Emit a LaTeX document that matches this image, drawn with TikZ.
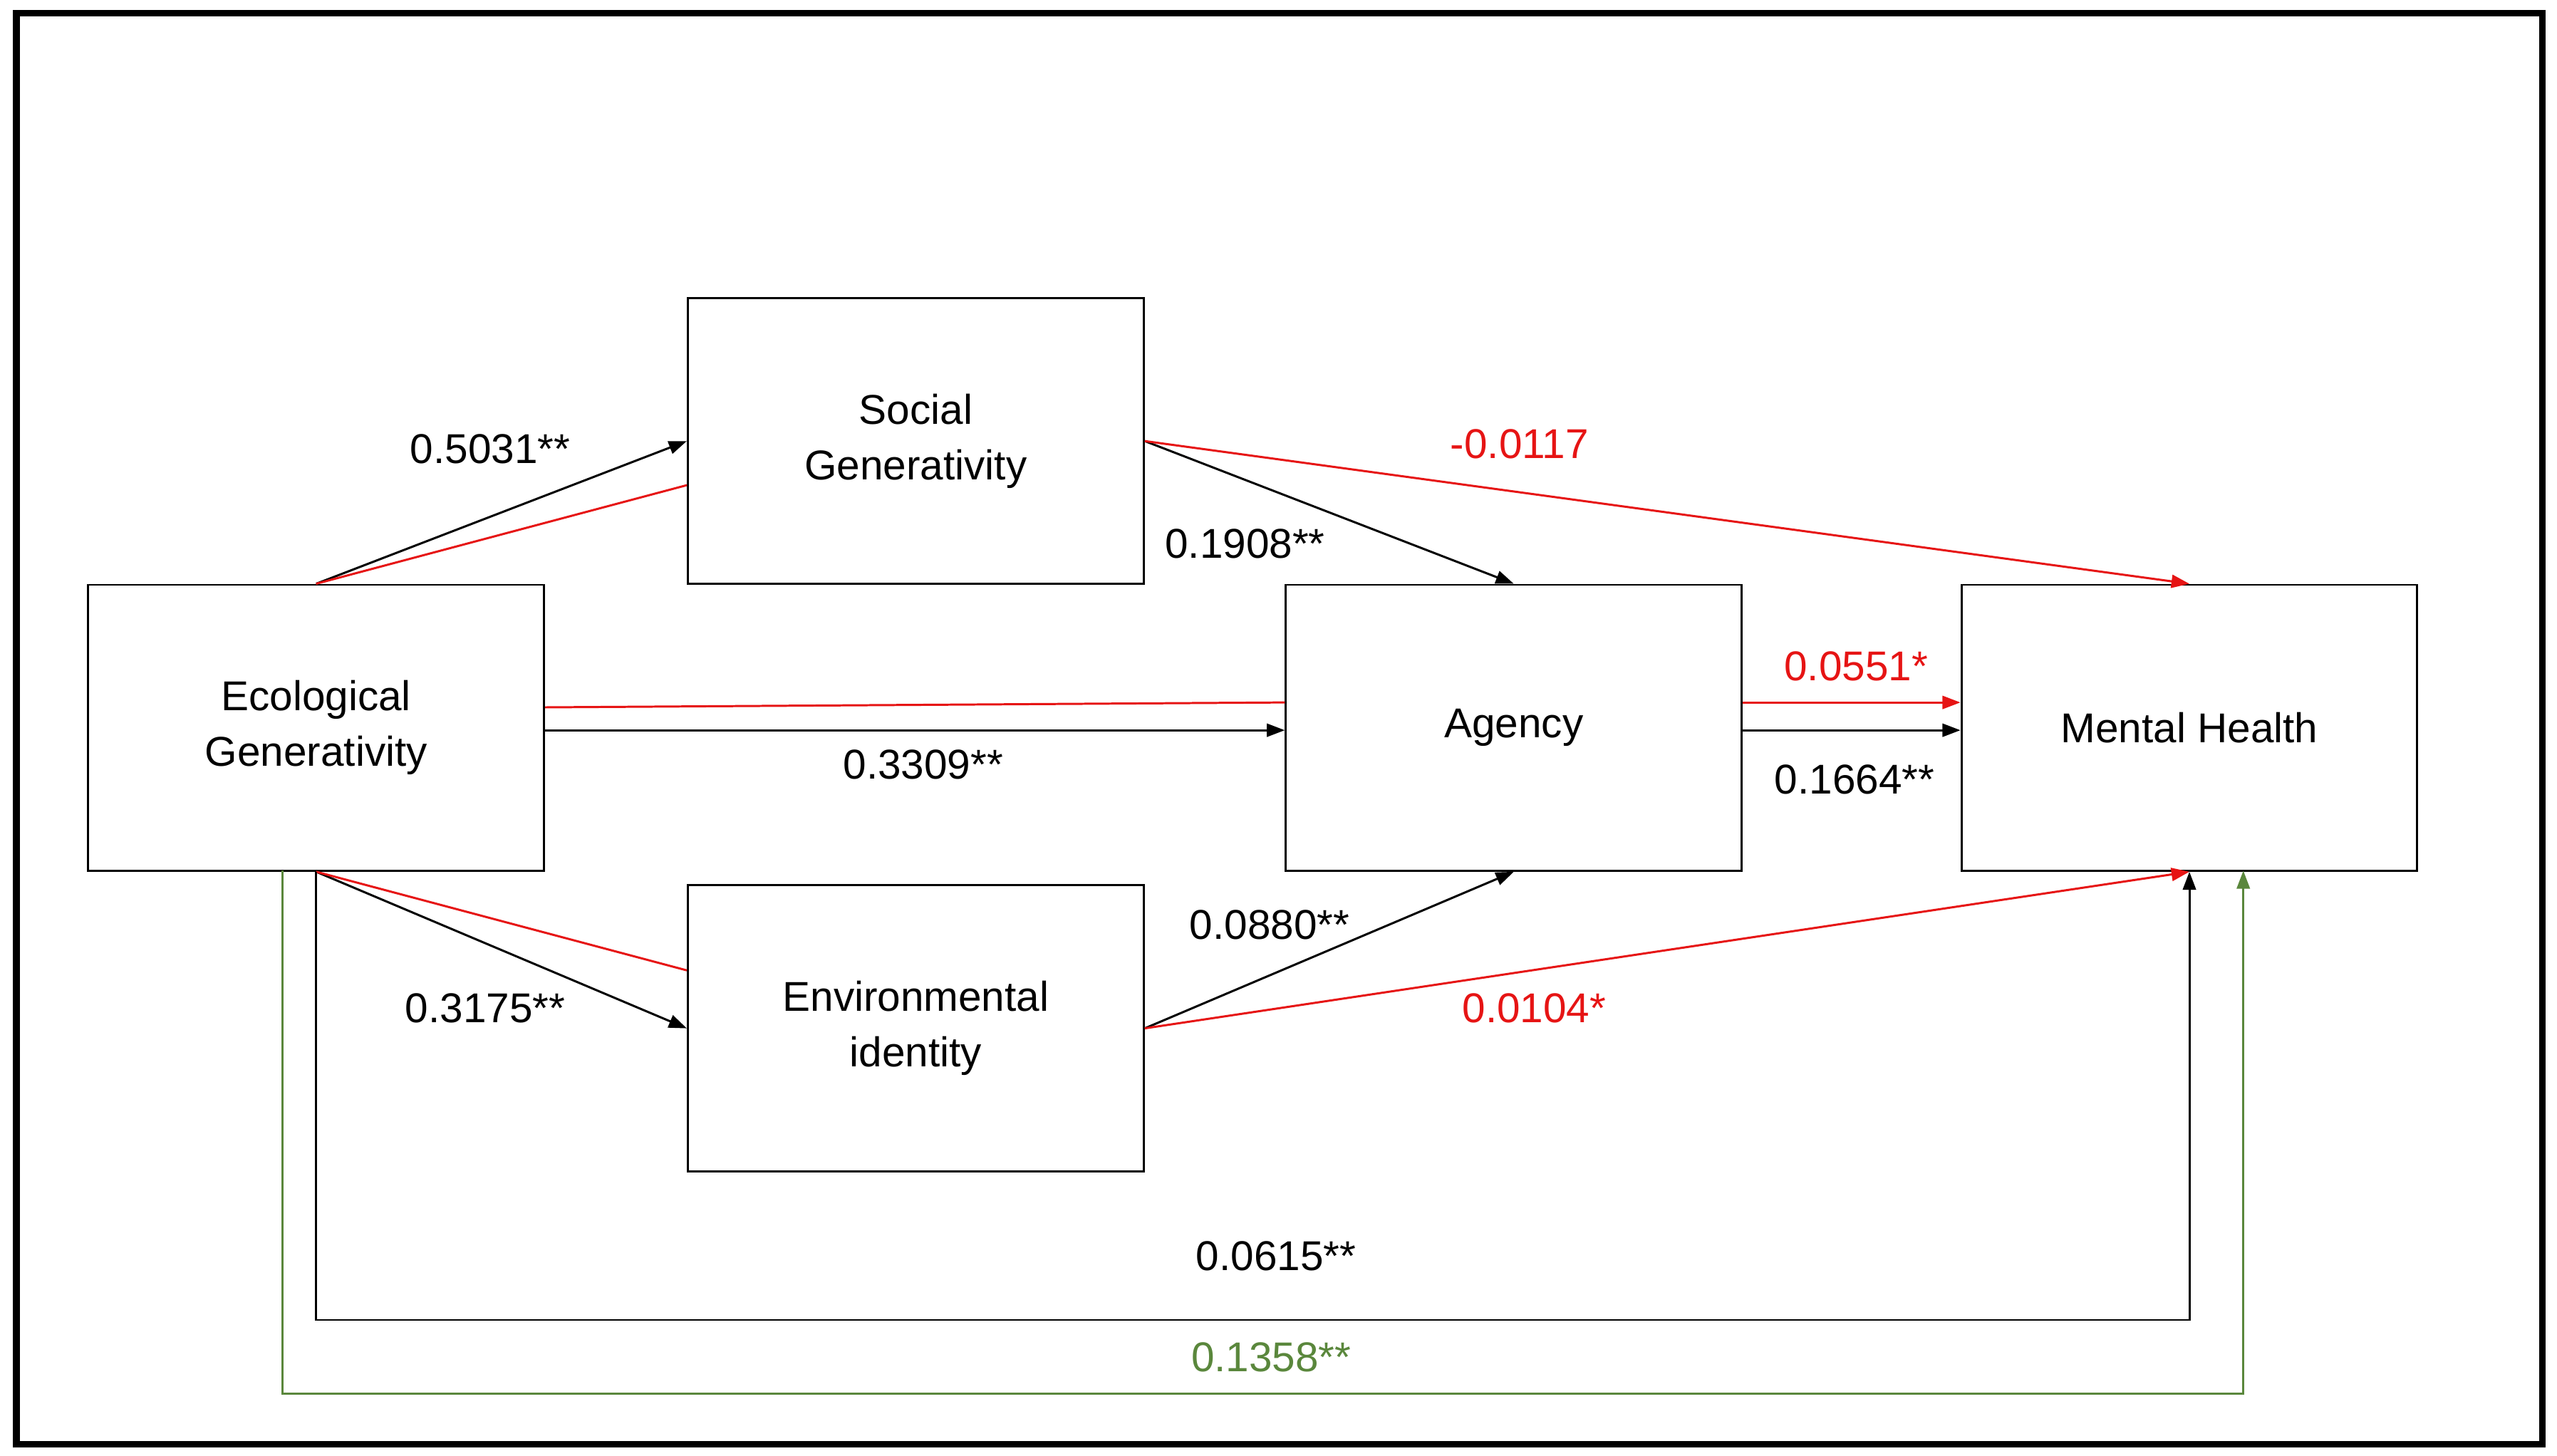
\documentclass[tikz,border=0pt]{standalone}
\usepackage{fontspec}
\setmainfont{Liberation Sans}
\usetikzlibrary{arrows.meta}
\definecolor{myred}{RGB}{230,20,20}
\definecolor{mygreen}{RGB}{90,135,60}
\begin{document}
\begin{tikzpicture}[x=1pt,y=-1pt,
  box/.style={draw,line width=1.3pt,minimum width=279pt,minimum height=175pt,inner sep=0pt,align=center,font=\fontsize{25.5}{34}\selectfont},
  lab/.style={font=\fontsize{25.5}{30}\selectfont},
  arr/.style={line width=1.3pt,-{Triangle[length=11pt,width=8pt]}},
  ln/.style={line width=1.3pt}]
\useasboundingbox (0,0) rectangle (1565,891);
\draw[line width=4pt] (10,8) rectangle (1556,884);
\node[box] (soc) at (560.5,270) {Social\\Generativity};
\node[box] (eco) at (193.5,445.5) {Ecological\\Generativity};
\node[box] (ag) at (926.5,445.5) {Agency};
\node[box] (mh) at (1340,445.5) {Mental Health};
\node[box] (env) at (560.5,629.5) {Environmental\\identity};
\coordinate (b1) at (193.5,808);
\coordinate (b2) at (1340,808);
\coordinate (g0) at (173,533);
\coordinate (g1) at (173,853);
\coordinate (g2) at (1373,853);
\coordinate (g3) at (1373,533);
% eco -> social
\draw[arr] (eco.north) -- (soc.west);
\draw[ln,myred] (eco.north) -- ([yshift=-27pt]soc.west);
% eco -> agency
\draw[arr] ([yshift=-1.5pt]eco.east) -- ([yshift=-1.5pt]ag.west);
\draw[ln,myred] ([yshift=12.5pt]eco.east) -- ([yshift=15.5pt]ag.west);
% eco -> env
\draw[arr] (eco.south) -- (env.west);
\draw[ln,myred] (eco.south) -- ([yshift=35.5pt]env.west);
% social
\draw[arr] (soc.east) -- (ag.north);
\draw[arr,myred] (soc.east) -- (mh.north);
% agency -> mh
\draw[arr,myred] ([yshift=15.5pt]ag.east) -- ([yshift=15.5pt]mh.west);
\draw[arr] ([yshift=-1.5pt]ag.east) -- ([yshift=-1.5pt]mh.west);
% env
\draw[arr] (env.east) -- (ag.south);
\draw[arr,myred] (env.east) -- (mh.south);
% direct paths
\draw[arr] (eco.south) -- (b1) -- (b2) -- (mh.south);
\draw[arr,mygreen] (g0) -- (g1) -- (g2) -- (g3);
% labels
\node[lab] at (300,275) {0.5031**};
\node[lab] at (762,333) {0.1908**};
\node[lab,myred] at (930,272) {-0.0117};
\node[lab] at (565,468) {0.3309**};
\node[lab,myred] at (1136,408) {0.0551*};
\node[lab] at (1135,477) {0.1664**};
\node[lab] at (777,566) {0.0880**};
\node[lab] at (297,617) {0.3175**};
\node[lab,myred] at (939,617) {0.0104*};
\node[lab] at (781,769) {0.0615**};
\node[lab,mygreen] at (778,831) {0.1358**};
\end{tikzpicture}
\end{document}
